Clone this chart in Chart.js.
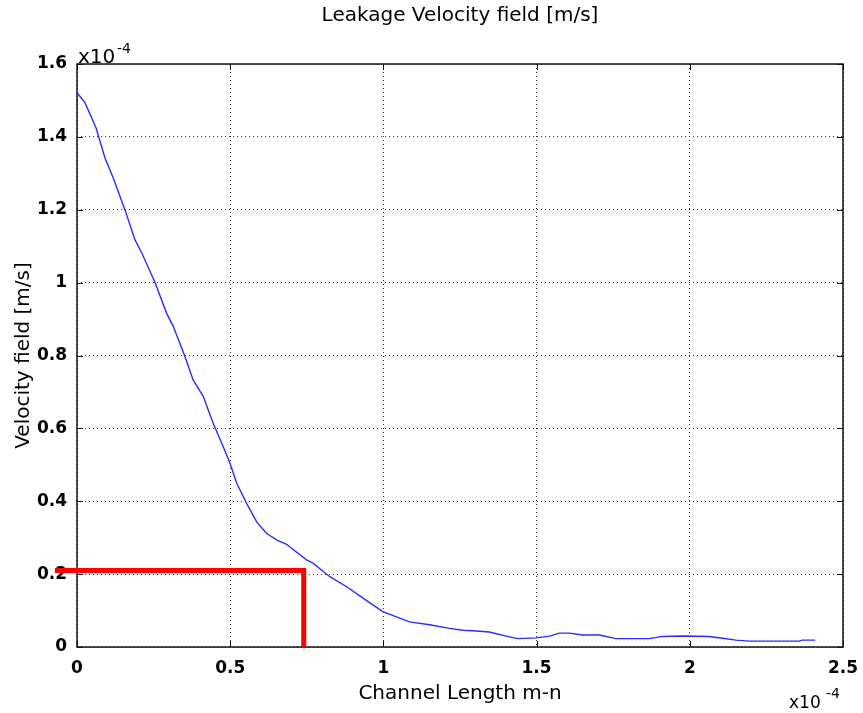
<!DOCTYPE html>
<html>
<head>
<meta charset="utf-8">
<title>Leakage Velocity field</title>
<script src="https://cdn.jsdelivr.net/npm/chart.js@4"></script>
<style>
  body { margin: 0; background: #fff; }
  canvas { display: block; }
</style>
</head>
<body>
<canvas id="velocityChart" width="863" height="713"></canvas>
<script>
// position along the channel (x 1e-4 m)
const channelLength = [0, 0.026, 0.062, 0.091, 0.118, 0.156, 0.189, 0.211, 0.254, 0.292, 0.314, 0.352,
  0.379, 0.412, 0.444, 0.477, 0.499, 0.521, 0.553, 0.586, 0.618, 0.651, 0.684, 0.749, 0.770, 0.825,
  0.879, 0.944, 0.998, 1.085, 1.151, 1.216, 1.259, 1.303, 1.346, 1.401, 1.438, 1.498, 1.542, 1.574,
  1.607, 1.650, 1.705, 1.759, 1.868, 1.911, 1.976, 2.063, 2.107, 2.150, 2.194, 2.357, 2.367, 2.409];
// leakage velocity (x 1e-4 m/s)
const velocity = [1.521, 1.494, 1.425, 1.343, 1.288, 1.201, 1.118, 1.082, 1.002, 0.917, 0.880, 0.798,
  0.733, 0.688, 0.615, 0.550, 0.505, 0.450, 0.395, 0.344, 0.312, 0.294, 0.282, 0.239, 0.230, 0.193,
  0.166, 0.128, 0.097, 0.069, 0.061, 0.051, 0.046, 0.044, 0.041, 0.030, 0.023, 0.025, 0.030, 0.038,
  0.038, 0.033, 0.033, 0.023, 0.023, 0.029, 0.030, 0.029, 0.024, 0.019, 0.016, 0.016, 0.019, 0.019];

// red reading guide
const guideX = [-0.072, 0.74, 0.74];
const guideY = [0.21, 0.21, 0];

const xTickLabels = ['0', '0.5', '1', '1.5', '2', '2.5'];
const yTickLabels = ['0', '0.2', '0.4', '0.6', '0.8', '1', '1.2', '1.4', '1.6'];

const FONT = 'DejaVu Sans';

// axes box, inward tick marks and the x10^-4 multipliers
const matlabFrame = {
  id: 'matlabFrame',
  beforeDatasetsDraw(chart) {
    const { ctx, chartArea: a, scales: { x, y } } = chart;
    ctx.save();
    ctx.strokeStyle = '#111';
    ctx.lineWidth = 1.5;
    ctx.strokeRect(a.left, a.top, a.right - a.left, a.bottom - a.top);
    ctx.lineWidth = 1;
    ctx.beginPath();
    x.ticks.forEach(t => {
      const px = Math.round(x.getPixelForValue(t.value)) + 0.5;
      ctx.moveTo(px, a.bottom); ctx.lineTo(px, a.bottom - 6);
      ctx.moveTo(px, a.top); ctx.lineTo(px, a.top + 6);
    });
    y.ticks.forEach(t => {
      const py = Math.round(y.getPixelForValue(t.value)) + 0.5;
      ctx.moveTo(a.left, py); ctx.lineTo(a.left + 6, py);
      ctx.moveTo(a.right, py); ctx.lineTo(a.right - 6, py);
    });
    ctx.stroke();
    ctx.restore();
  },
  afterDraw(chart) {
    const { ctx, chartArea: a } = chart;
    ctx.save();
    ctx.fillStyle = '#000';
    ctx.textAlign = 'left';
    ctx.textBaseline = 'alphabetic';
    ctx.font = '20px "' + FONT + '"';
    ctx.fillText('x10', a.left + 1, a.top - 1);
    ctx.font = '14px "' + FONT + '"';
    ctx.fillText('-4', a.left + 40, a.top - 11);
    ctx.font = '17px "' + FONT + '"';
    ctx.fillText('x10', a.right - 54, a.bottom + 61);
    ctx.font = '14px "' + FONT + '"';
    ctx.fillText('-4', a.right - 17, a.bottom + 51);
    ctx.restore();
  }
};

const tickFont = { family: FONT, size: 17, weight: 'bold' };
const titleFont = { family: FONT, size: 20, weight: 'normal' };

new Chart(document.getElementById('velocityChart'), {
  type: 'scatter',
  data: {
    datasets: [
      {
        data: channelLength.map((v, i) => ({ x: v, y: velocity[i] })),
        showLine: true,
        borderColor: '#2b2bff',
        borderWidth: 1.4,
        pointRadius: 0,
        tension: 0
      },
      {
        data: guideX.map((v, i) => ({ x: v, y: guideY[i] })),
        showLine: true,
        borderColor: '#ff0000',
        borderWidth: 5,
        pointRadius: 0,
        clip: false
      }
    ]
  },
  options: {
    responsive: false,
    animation: false,
    layout: { padding: { left: 0, right: 20, top: 0, bottom: 0 } },
    plugins: {
      legend: { display: false },
      tooltip: { enabled: false },
      title: {
        display: true,
        fullSize: false,
        text: 'Leakage Velocity field [m/s]',
        color: '#000',
        font: titleFont,
        padding: { top: 4, bottom: 36 }
      }
    },
    scales: {
      x: {
        type: 'linear',
        min: 0,
        max: 2.5,
        afterFit: s => {
          s.height = 66;
          s.paddingLeft = 0;
          s.paddingRight = 0;
        },
        ticks: {
          stepSize: 0.5,
          padding: 11,
          color: '#000',
          font: tickFont,
          callback: (v, i) => xTickLabels[i]
        },
        grid: { color: '#333', lineWidth: 1, drawTicks: false },
        border: { display: false, dash: [1, 3] },
        title: {
          display: true,
          text: 'Channel Length m-n',
          color: '#000',
          font: titleFont,
          padding: { top: 0, bottom: 7 }
        }
      },
      y: {
        type: 'linear',
        min: 0,
        max: 1.6,
        afterFit: s => { s.width = 77; },
        ticks: {
          stepSize: 0.2,
          padding: 10,
          color: '#000',
          font: tickFont,
          callback: (v, i) => yTickLabels[i]
        },
        grid: { color: '#333', lineWidth: 1, drawTicks: false },
        border: { display: false, dash: [1, 3] },
        title: {
          display: true,
          text: 'Velocity field [m/s]',
          color: '#000',
          font: titleFont,
          padding: { top: 12, bottom: 0 }
        }
      }
    }
  },
  plugins: [matlabFrame]
});
</script>
</body>
</html>
